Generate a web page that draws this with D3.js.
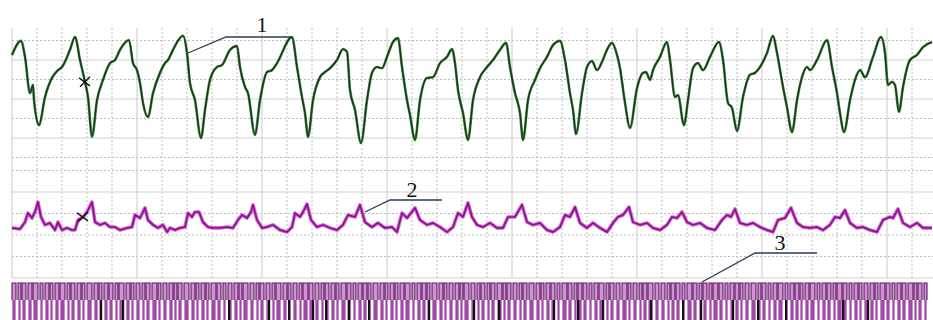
<!DOCTYPE html>
<html>
<head>
<meta charset="utf-8">
<script src="https://cdn.jsdelivr.net/npm/d3@7"></script>
<style>
  html, body { margin: 0; padding: 0; background: #fff; }
  svg { display: block; }
</style>
</head>
<body>
<svg id="chart" width="933" height="320"></svg>
<script>
// Channel 1: [time ms, mV]
const channel1 = [
  [0,2.13],[72,2.49],[104,2.08],[144,1.15],[168,1.36],[176,0.97],[216,0.33],[264,1.05],[320,1.54],[368,1.74],
  [400,1.82],[464,2.26],[504,2.59],[544,2.00],[584,1.44],[608,1.05],[640,0.03],[680,0.97],[728,1.49],[784,1.92],
  [824,2.00],[864,2.26],[936,2.51],[968,1.92],[1000,1.74],[1024,1.41],[1048,0.90],[1088,0.54],[1128,1.15],[1184,1.67],
  [1224,1.92],[1248,2.00],[1288,2.26],[1368,2.62],[1400,2.18],[1424,1.41],[1464,0.97],[1512,0],[1544,0.72],[1584,1.49],
  [1640,1.82],[1680,1.87],[1744,2.26],[1800,2.36],[1824,1.82],[1864,1.31],[1888,1.15],[1944,0.08],[1984,0.97],[2040,1.69],
  [2080,1.74],[2120,1.92],[2240,2.59],[2280,1.82],[2320,1.05],[2344,0.64],[2368,0.03],[2408,0.97],[2464,1.56],[2504,1.69],
  [2544,1.79],[2600,2.00],[2648,2.28],[2680,2.21],[2704,1.23],[2744,0.72],[2792,-0.13],[2840,0.97],[2880,1.67],[2920,1.82],
  [2960,1.79],[3000,2.08],[3048,2.46],[3088,2.56],[3120,1.82],[3160,0.97],[3184,0.59],[3224,-0.05],[3264,0.97],[3320,1.54],
  [3368,1.56],[3424,1.92],[3480,2.08],[3520,2.28],[3544,1.92],[3568,1.23],[3608,0.64],[3648,-0.05],[3688,0.97],[3744,1.56],
  [3800,1.82],[3848,2.00],[3904,2.26],[3952,2.44],[3984,1.82],[4024,1.15],[4064,0.64],[4088,-0.05],[4128,0.97],[4184,1.49],
  [4224,1.79],[4280,2.08],[4328,2.38],[4384,2.49],[4424,2.00],[4464,1.15],[4488,0.72],[4512,0.10],[4560,1.15],[4600,1.82],
  [4640,1.97],[4680,1.74],[4720,1.95],[4760,2.26],[4800,2.44],[4840,2.13],[4864,1.79],[4904,0.90],[4944,0.26],[5000,1.28],
  [5048,1.67],[5072,1.69],[5104,1.49],[5128,1.74],[5184,2.08],[5240,2.46],[5264,2.00],[5304,1.05],[5328,1.10],[5376,0.33],
  [5408,0.97],[5448,1.79],[5488,1.92],[5528,1.74],[5584,2.08],[5656,2.46],[5688,2.00],[5728,0.90],[5760,0.77],[5800,0.18],
  [5848,1.05],[5904,1.62],[5944,1.67],[5984,1.82],[6040,2.18],[6088,2.62],[6120,2.18],[6168,1.31],[6200,0.79],[6240,0.15],
  [6280,0.97],[6320,1.56],[6360,1.82],[6384,1.74],[6440,2.00],[6520,2.51],[6560,1.82],[6600,1.15],[6624,0.64],[6656,0.15],
  [6704,0.97],[6744,1.49],[6784,1.74],[6824,1.56],[6888,2.08],[6952,2.59],[6984,2.18],[7008,1.36],[7040,1.44],[7064,1.36],
  [7096,0.67],[7128,1.31],[7184,2.00],[7240,2.13],[7288,2.33],[7360,2.46]
];

// Channel 2: [time ms, divisions]
const channel2 = [
  [0,2.33],[64,2.28],[104,2.60],[128,3.02],[160,2.79],[184,3.07],[208,3.53],[232,2.84],[264,2.47],[304,2.56],
  [344,2.23],[368,2.60],[400,2.23],[440,2.33],[480,2.23],[504,2.23],[528,2.70],[568,2.84],[600,3.07],[640,3.53],
  [664,2.60],[704,2.47],[744,2.56],[784,2.37],[824,2.37],[864,2.23],[920,2.33],[960,2.37],[984,2.93],[1024,2.79],
  [1064,3.26],[1088,2.70],[1128,2.47],[1168,2.33],[1208,2.47],[1240,2.14],[1264,2.33],[1304,2.23],[1344,2.33],[1384,2.37],
  [1408,3.02],[1440,2.84],[1464,3.07],[1496,3.07],[1528,2.60],[1568,2.37],[1608,2.33],[1664,2.33],[1720,2.37],[1768,2.33],
  [1808,2.70],[1840,2.93],[1880,2.79],[1912,3.07],[1928,3.40],[1960,2.70],[2000,2.33],[2040,2.37],[2088,2.47],[2144,2.23],
  [2200,2.14],[2240,2.37],[2264,3.02],[2304,2.84],[2328,3.07],[2360,3.44],[2392,2.70],[2440,2.37],[2488,2.47],[2544,2.33],
  [2600,2.23],[2648,2.47],[2688,2.93],[2744,2.84],[2784,3.40],[2824,2.60],[2880,2.37],[2928,2.56],[2984,2.33],[3040,2.37],
  [3080,2.14],[3120,3.02],[3160,2.79],[3224,3.26],[3264,2.70],[3320,2.47],[3368,2.56],[3424,2.37],[3480,2.14],[3528,2.37],
  [3568,3.02],[3608,2.84],[3648,3.49],[3680,2.84],[3720,2.47],[3768,2.37],[3824,2.56],[3880,2.33],[3928,2.33],[3968,2.84],
  [4024,2.84],[4080,3.40],[4120,2.60],[4168,2.47],[4224,2.56],[4280,2.23],[4328,2.14],[4384,2.37],[4424,2.93],[4464,2.84],
  [4504,3.30],[4544,2.56],[4600,2.33],[4648,2.56],[4704,2.33],[4760,2.14],[4808,2.56],[4848,2.84],[4888,2.93],[4936,3.30],
  [4968,2.60],[5024,2.47],[5080,2.56],[5128,2.33],[5184,2.23],[5240,2.47],[5280,2.84],[5320,2.79],[5360,3.07],[5400,2.60],
  [5448,2.47],[5504,2.56],[5560,2.33],[5624,2.23],[5680,2.70],[5720,2.93],[5752,2.84],[5784,3.21],[5824,2.56],[5880,2.47],
  [5928,2.56],[5984,2.37],[6040,2.23],[6088,2.14],[6128,2.70],[6184,2.79],[6232,3.26],[6280,2.56],[6328,2.37],[6384,2.33],
  [6440,2.37],[6488,2.23],[6544,2.47],[6584,2.84],[6624,2.79],[6664,3.16],[6704,2.56],[6760,2.33],[6808,2.37],[6864,2.23],
  [6920,2.14],[6968,2.70],[7024,2.84],[7048,2.79],[7088,3.21],[7128,2.56],[7184,2.37],[7240,2.56],[7288,2.33],[7360,2.33]
];

// Channel 3: pulse train, high and low durations in ms, alternating from t = 0
const pulseHigh = [
  32,24,32,32,40,24,32,24,32,40, 24,32,32,24,40,32,24,32,32,24, 40,32,24,32,24,32,40,24,32,32,
  24,32,40,32,24,32,24,40,32,24, 32,32,24,40,32,24,32,32,24,40, 32,24,32,24,40,32,32,24,32,32,
  24,40,32,24,32,32,24,40,32,24, 32,24,32,40,24,32,32,24,40,32, 24,32,32,24,40,32,24,32,24,32,
  40,24,32,32,24,32,40,32,24,32, 32,24,40,32,24,32,32,24,32,40, 24,32,32,40,24,32,24,32,40,32,
  32,24,32,32,24,40,32,24,32,24, 40,32,24,32,32,24,32,40,24,32, 24,32,40,24,32,32,24,32,40,24,
  32,32,24,40,32,24,32,24,32,32, 24,40,32,24,32,32,40,24,32,24
];
const pulseLow = [
  16,8,16,8,16,16,8,16,8,16, 8,16,8,16,16,8,16,8,16,8, 16,8,16,16,8,16,8,16,16,8,
  8,16,16,8,16,8,16,8,16,16, 16,8,8,16,16,8,16,16,8,16, 8,16,16,8,8,16,16,8,16,8,
  16,8,16,16,8,8,16,16,8,16, 8,16,8,16,16,8,8,16,16,8, 16,16,8,8,16,16,8,16,8,16,
  8,8,16,16,8,16,16,8,16,8, 16,16,8,16,8,8,16,16,8,16, 8,16,16,8,16,16,8,8,16,16,
  16,8,8,16,16,8,16,8,16,8, 8,16,16,8,8,16,16,16,8,16, 16,8,16,16,8,8,16,8,16,16,
  8,16,8,8,16,16,8,16,16,8, 16,8,16,16,8,16,8,8,16,16
];
// Pulses recorded with a dark edge in the lower band (ms)
const darkPulses = [704,880,1728,2048,2208,2400,2504,2688,2848,3328,3688,3888,4328,4520,4720,5104,5360,5504,5760,5960,6184,6640,6840];

// Event markers on channels 1 and 2 (ms)
const markerTime = 584;
const marker2Time = 568;

// Trace labels
const labels = ["1", "2", "3"];

const svg = d3.select("#chart");
const W = 933, H = 320;
const plotTop = 28;

const x = d3.scaleLinear().domain([0, 7368]).range([12, W]);
const y1 = d3.scaleLinear().domain([0, 2]).range([138, 60]);
const y2 = d3.scaleLinear().domain([0, 4]).range([278, 192]);
const pulseTop = 283, pulseMid = 300, pulseBottom = H;

// ---- grid ----
const grid = svg.append("g");
const minorT = d3.range(200, 7368, 200).filter(t => t % 1000 !== 0);
const majorT = d3.range(0, 7368, 1000);
const solidColor = "#d2d2d2", dotColor = "#bdbdbd";

grid.selectAll(".vminor").data(minorT).join("line")
  .attr("x1", d => x(d)).attr("x2", d => x(d))
  .attr("y1", plotTop).attr("y2", y2(0))
  .attr("stroke", dotColor).attr("stroke-width", 1).attr("stroke-dasharray", "2,2");

const hDotted = [
  ...[-0.5, 0.5, 1.5, 2.5].map(v => y1(v)),
  ...[1, 2, 3, 5].map(v => y2(v))
];
const hSolid = [
  ...[0, 1, 2].map(v => y1(v)),
  ...[0, 4].map(v => y2(v))
];
grid.selectAll(".hdot").data(hDotted).join("line")
  .attr("x1", x(0)).attr("x2", W)
  .attr("y1", d => d).attr("y2", d => d)
  .attr("stroke", dotColor).attr("stroke-width", 1).attr("stroke-dasharray", "2,2");
grid.selectAll(".hsolid").data(hSolid).join("line")
  .attr("x1", x(0)).attr("x2", W)
  .attr("y1", d => d).attr("y2", d => d)
  .attr("stroke", solidColor).attr("stroke-width", 1.2);
grid.selectAll(".vmajor").data(majorT).join("line")
  .attr("x1", d => x(d)).attr("x2", d => x(d))
  .attr("y1", plotTop).attr("y2", y2(0))
  .attr("stroke", solidColor).attr("stroke-width", 1.2);

// ---- channel 1 ----
const line1 = d3.line().curve(d3.curveMonotoneX).x(d => x(d[0])).y(d => y1(d[1]));
svg.append("path").datum(channel1).attr("d", line1)
  .attr("fill", "none").attr("stroke", "#3f8a3f").attr("stroke-width", 2.6)
  .attr("stroke-linejoin", "round");
svg.append("path").datum(channel1).attr("d", line1)
  .attr("fill", "none").attr("stroke", "#1a361a").attr("stroke-width", 1.4)
  .attr("stroke-linejoin", "round");

// ---- channel 2 ----
const line2 = d3.line().x(d => x(d[0])).y(d => y2(d[1]));
svg.append("path").datum(channel2).attr("d", line2)
  .attr("fill", "none").attr("stroke", "#d060d0").attr("stroke-width", 3.6)
  .attr("stroke-linejoin", "round");
svg.append("path").datum(channel2).attr("d", line2)
  .attr("fill", "none").attr("stroke", "#85108a").attr("stroke-width", 1.5)
  .attr("stroke-linejoin", "round");

// ---- channel 3: pulse train ----
const pulses = [];
{
  let t = 0;
  for (let i = 0; i < pulseHigh.length && t < 7368; i++) {
    pulses.push({ t0: t, t1: Math.min(t + pulseHigh[i], 7368) });
    t += pulseHigh[i] + pulseLow[i];
  }
}
const pg = svg.append("g");
// upper band: light fill between dark edges
pg.selectAll(".pu").data(pulses).join("rect")
  .attr("x", d => x(d.t0)).attr("width", d => x(d.t1) - x(d.t0))
  .attr("y", pulseTop).attr("height", pulseMid - pulseTop)
  .attr("fill", "#cf93d2");
// lower band: saturated bars
pg.selectAll(".pl").data(pulses).join("rect")
  .attr("x", d => x(d.t0) + 0.4).attr("width", d => Math.max(0, x(d.t1) - x(d.t0) - 0.8))
  .attr("y", pulseMid).attr("height", pulseBottom - pulseMid)
  .attr("fill", "#a048a6");
pg.selectAll(".pe").data(pulses).join("path")
  .attr("d", d => `M${x(d.t0)},${pulseMid}V${pulseTop}H${x(d.t1)}V${pulseMid}`)
  .attr("fill", "none").attr("stroke", "#5e1563").attr("stroke-width", 1.1);
pg.selectAll(".pd").data(darkPulses).join("rect")
  .attr("x", d => x(d)).attr("width", 2.2)
  .attr("y", pulseMid).attr("height", pulseBottom - pulseMid)
  .attr("fill", "#141014");

// ---- event markers ----
function cross(g, cx, cy) {
  g.append("path")
    .attr("d", `M${cx - 6},${cy - 4}L${cx + 5},${cy + 4}M${cx - 5},${cy + 5}L${cx + 5},${cy - 5}`)
    .attr("stroke", "#111").attr("stroke-width", 1.4).attr("fill", "none");
}
const v1 = channel1.find(d => d[0] === markerTime)[1];
const v2 = channel2.find(d => d[0] === marker2Time)[1];
cross(svg, x(markerTime), y1(v1));
cross(svg, x(marker2Time), y2(v2));

// ---- trace labels with leader lines ----
const leaders = [
  { label: labels[0], pts: [[188, 53], [226, 37], [290, 37]], tx: 262, ty: 32 },
  { label: labels[1], pts: [[365, 212], [390, 200], [442, 200]], tx: 412, ty: 197 },
  { label: labels[2], pts: [[702, 282], [755, 253], [817, 253]], tx: 780, ty: 250 }
];
const lg = svg.append("g");
leaders.forEach(l => {
  lg.append("path").attr("d", d3.line()(l.pts))
    .attr("fill", "none").attr("stroke", "#2b3b55").attr("stroke-width", 1.3);
  lg.append("text").attr("x", l.tx).attr("y", l.ty)
    .attr("text-anchor", "middle")
    .attr("font-family", "'Liberation Serif', 'DejaVu Serif', serif")
    .attr("font-size", 22).attr("fill", "#111")
    .text(l.label);
});
</script>
</body>
</html>
